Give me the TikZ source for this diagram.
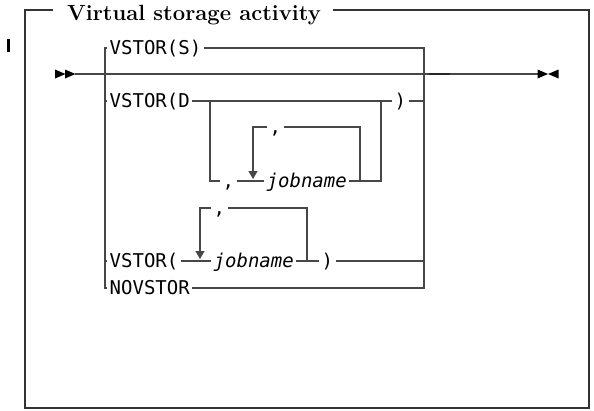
\documentclass[tikz,border=0pt]{standalone}
\usepackage{fontspec}
\usepackage{tikz}
\usetikzlibrary{positioning}
\usetikzlibrary{arrows.meta}
\newfontfamily\railfont{DejaVu Sans Mono}
\colorlet{railcol}{black!72}
\tikzset{>=latex}

\begin{document}
\begin{tikzpicture}[x=1pt,y=-1pt,
  rail/.style={draw=railcol,line width=1.2pt},
  frame/.style={draw=black!80,line width=1.2pt},
  kw/.style={font=\railfont\fontsize{19}{23}\selectfont,inner xsep=2.5pt,
    inner ysep=0pt,text height=13.8pt,text depth=0pt,anchor=west},
  var/.style={kw,font=\railfont\itshape\fontsize{19}{23}\selectfont},
  rep/.style={-{Triangle[width=9pt,length=8pt]}}]

\useasboundingbox (0,0) rectangle (594,410);

% ---------------- Frame and title ----------------
\node[font=\bfseries\fontsize{22}{26}\selectfont,anchor=base west,inner sep=0pt]
  (title) at (67,20) {Virtual storage activity};
\draw[frame] (53,10) -- (25,10) -- (25,408) -- (589,408) -- (589,10) -- (333,10);

% change bar
\draw[line width=3pt] (8.5,39) -- (8.5,52);

% ---------------- Main line ----------------
\coordinate (start) at (75,74);
\coordinate (stop) at (538,74);
\draw[rail] (start) -- (stop);
\draw[line width=1.7pt,black!85] (429,74) -- (450,74);

\foreach \x in {55,65}{
  \fill (\x,69.5) -- (\x+10.5,74) -- (\x,78.5) -- cycle;
}
\fill (537.5,69.5) -- (548,74) -- (537.5,78.5) -- cycle;
\fill (558.5,69.5) -- (548,74) -- (558.5,78.5) -- cycle;

% ---------------- Choices ----------------
\coordinate (L) at (105,48);
\coordinate (R) at (424,48);

\node[kw] (vss) at (107,48) {VSTOR(S)};
\node[kw] (vsd) at (107,101) {VSTOR(D};
\node[kw] (cpd) at (392,101) {)};
\node[kw] (vsj) at (107,261) {VSTOR(};
\node[var] (j2) at (211,261) {jobname};
\node[kw] (cpj) at (319,261) {)};
\node[kw] (nov) at (107,288) {NOVSTOR};

\draw[rail] (vss.west) -- (L) |- (nov.west);
\draw[rail] (vss.east) -- (R) |- (nov.east);
\draw[rail] (vsd.west) -- (vsd.west -| L);
\draw[rail] (vsj.west) -- (vsj.west -| L);

% VSTOR(D row
\draw[rail] (vsd.east) -- (cpd.west);
\draw[rail] (cpd.east) -- (cpd.east -| R);

% ---------- optional jobname list ----------
\coordinate (b1) at (210,101);
\coordinate (b2) at (381,101);
\node[kw] (c1) at (220,181) {,};
\node[var] (j1) at (264,181) {jobname};
\node[kw] (c2) at (267,127) {,};
\coordinate (k1) at (253,179);
\coordinate (k2) at (360,181);

\draw[rail] (b1) |- (c1.west);
\draw[rail] (c1.east) -- (j1.west);
\draw[rail] (j1.east) -| (b2);
\draw[rail] (k2) |- (c2.east);
\draw[rail,rep] (c2.west) -| (k1);

% VSTOR( row
\node[kw] (c3) at (211,208) {,};
\coordinate (k3) at (200,259);
\coordinate (k4) at (307,261);

\draw[rail] (vsj.east) -- (j2.west);
\draw[rail] (j2.east) -- (cpj.west);
\draw[rail] (cpj.east) -- (cpj.east -| R);
\draw[rail] (k4) |- (c3.east);
\draw[rail,rep] (c3.west) -| (k3);

\end{tikzpicture}
\end{document}
